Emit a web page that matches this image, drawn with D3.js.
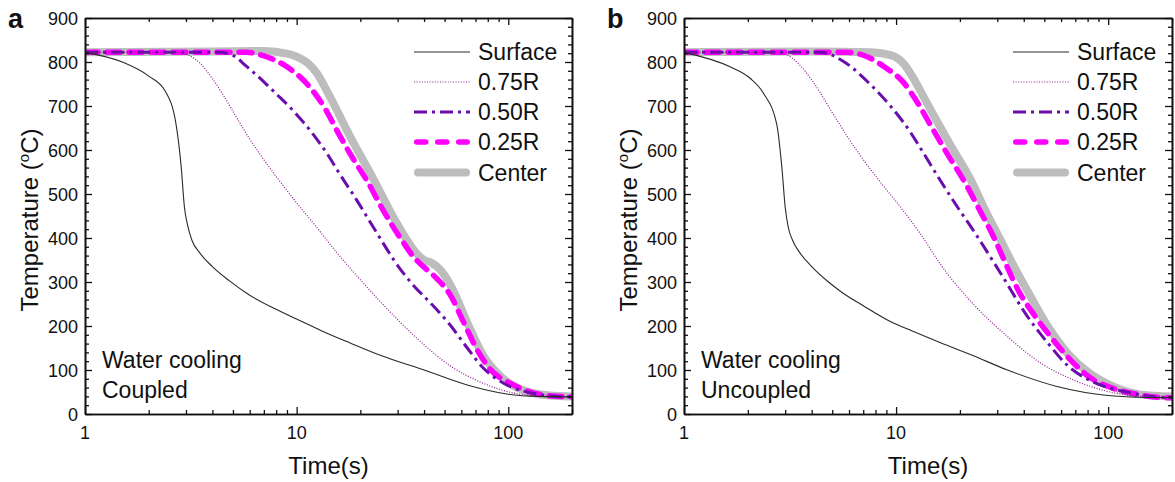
<!DOCTYPE html>
<html>
<head>
<meta charset="utf-8">
<script src="https://cdn.jsdelivr.net/npm/d3@7"></script>
<style>
  html, body { margin: 0; padding: 0; background: #fff; }
  svg { display: block; font-family: Arial, "Liberation Sans", sans-serif; }
</style>
</head>
<body>
<svg id="chart" width="1175" height="482"></svg>
<script>
// Series names and legend order
const seriesNames = ["Surface", "0.75R", "0.50R", "0.25R", "Center"];

// Axis ticks
const xMajorTicks = [1, 10, 100];
const xMinorTicks = [2, 3, 4, 5, 6, 7, 8, 9, 20, 30, 40, 50, 60, 70, 80, 90, 200];
const yMajorTicks = [0, 100, 200, 300, 400, 500, 600, 700, 800, 900];

// Panel a: water cooling, coupled  (time in s, temperature in °C)
const surfaceA_t = [1, 1.5, 2, 2.4, 2.7, 2.85, 2.95, 3.05, 3.2, 3.5, 4.0, 4.8, 6, 8, 10, 13, 18, 25, 40, 64, 100, 140, 200];
const surfaceA_T = [822, 800, 768, 733, 655, 560, 470, 430, 395, 365, 335, 303, 270, 238, 216, 190, 161, 133, 100, 66, 45, 40, 39];
const r75A_t = [1, 2.7, 3.1, 3.5, 4, 4.5, 5, 6, 7, 8, 10, 12.4, 15, 18, 25.7, 37, 53, 76, 110, 150, 200];
const r75A_T = [822, 822, 815, 797, 762, 725, 688, 625, 578, 540, 480, 425, 375, 330, 248, 172, 110, 70, 46, 40, 39];
const r50A_t = [1, 4.3, 5, 5.8, 7, 8, 9.6, 12, 14, 16, 19, 23, 30.8, 36, 41, 47, 53, 64, 76, 95, 131, 170, 200];
const r50A_T = [822, 822, 815, 790, 755, 728, 690, 635, 590, 545, 490, 425, 330, 290, 262, 232, 203, 150, 105, 70, 47, 40, 39];
const r25A_t = [1, 5.8, 7.2, 9, 11.2, 13.4, 16, 18.5, 21.4, 25.7, 31.9, 36, 39.7, 45.9, 53, 61.3, 70.9, 82, 102, 131, 160, 200];
const r25A_T = [822, 822, 812, 789, 750, 700, 632, 580, 532, 462, 390, 355, 335, 308, 272, 210, 148, 102, 70, 48, 41, 39];
const centerA_t = [1, 4, 7, 9, 10, 11.6, 12.4, 14.4, 18, 23, 29.6, 36.9, 40, 42.7, 46, 50, 55, 63.7, 76.3, 91.7, 110, 157, 200];
const centerA_T = [822, 824, 825, 819, 812, 792, 776, 720, 628, 535, 435, 365, 350, 345, 335, 315, 280, 210, 132, 86, 60, 42, 40];

// Panel b: water cooling, uncoupled
const surfaceB_t = [1, 1.65, 2.05, 2.37, 2.74, 2.9, 3.0, 3.1, 3.25, 3.5, 4.0, 4.8, 5.5, 7, 9.4, 12, 16.2, 23, 33.5, 58, 100, 140, 200];
const surfaceB_T = [822, 789, 763, 729, 657, 555, 470, 425, 395, 368, 335, 300, 278, 246, 210, 188, 162, 133, 100, 62, 42, 38, 37];
const r75B_t = [1, 2.74, 3.1, 3.4, 4.1, 4.9, 5.9, 7.6, 8.4, 10.9, 13, 16.2, 23.3, 33.5, 48, 69, 100, 143, 200];
const r75B_T = [822, 822, 815, 800, 752, 692, 630, 555, 528, 460, 410, 340, 248, 176, 116, 77, 51, 40, 37];
const r50B_t = [1, 4.4, 5.7, 7.6, 9.4, 11.7, 13, 16.2, 19.5, 23.3, 31.1, 41.6, 51.8, 64.4, 83, 119, 160, 200];
const r50B_T = [822, 822, 800, 748, 700, 640, 605, 530, 470, 415, 320, 222, 162, 110, 75, 51, 40, 37];
const r25B_t = [1, 5.9, 7.3, 8.75, 10.9, 12.6, 15, 17.5, 20.9, 25, 29, 33, 37.3, 44.8, 53.7, 66.7, 80, 111, 140, 171, 200];
const r25B_T = [822, 822, 812, 790, 752, 708, 645, 590, 530, 460, 400, 340, 285, 225, 175, 122, 87, 55, 44, 38, 37];
const centerB_t = [1, 4, 7.6, 9.5, 10.9, 12, 13, 15, 18, 22.5, 26.5, 31.1, 36, 41.6, 51.8, 64.4, 80, 106, 143, 200];
const centerB_T = [822, 824, 822, 815, 795, 765, 735, 680, 612, 532, 460, 395, 335, 280, 200, 138, 96, 62, 44, 40];

// Line styles per series
const styles = {
  "Surface": { color: "#2a2a2a", width: 1.1, dash: null, cap: "butt" },
  "0.75R":   { color: "#8e1a8e", width: 1.2, dash: "1,1.6", cap: "butt" },
  "0.50R":   { color: "#6a0dad", width: 3, dash: "13,5,3,5", cap: "butt" },
  "0.25R":   { color: "#ff00ff", width: 5.5, dash: "13,9", cap: "round" },
  "Center":  { color: "#bdbdbd", width: 8, dash: null, cap: "round" }
};

const zip = (ts, Ts) => ts.map((t, i) => ({ t: t, T: Ts[i] }));

const panels = [
  {
    letter: "a", left: 85, right: 572, note: ["Water cooling", "Coupled"],
    series: {
      "Surface": zip(surfaceA_t, surfaceA_T),
      "0.75R": zip(r75A_t, r75A_T),
      "0.50R": zip(r50A_t, r50A_T),
      "0.25R": zip(r25A_t, r25A_T),
      "Center": zip(centerA_t, centerA_T)
    }
  },
  {
    letter: "b", left: 684, right: 1172, note: ["Water cooling", "Uncoupled"],
    series: {
      "Surface": zip(surfaceB_t, surfaceB_T),
      "0.75R": zip(r75B_t, r75B_T),
      "0.50R": zip(r50B_t, r50B_T),
      "0.25R": zip(r25B_t, r25B_T),
      "Center": zip(centerB_t, centerB_T)
    }
  }
];

const plotTop = 18, plotBottom = 414;
const svg = d3.select("#chart");

panels.forEach(p => {
  const x = d3.scaleLog().domain([1, 200]).range([p.left, p.right]);
  const y = d3.scaleLinear().domain([0, 900]).range([plotBottom, plotTop]);
  const g = svg.append("g");

  const clipId = "clip-" + p.letter;
  svg.append("clipPath").attr("id", clipId)
    .append("rect").attr("x", p.left).attr("y", plotTop)
    .attr("width", p.right - p.left).attr("height", plotBottom - plotTop);

  // curves, drawn from core outward so the surface sits on top
  const line = d3.line().x(d => x(d.t)).y(d => y(d.T)).curve(d3.curveMonotoneX);
  const plot = g.append("g").attr("clip-path", `url(#${clipId})`);
  ["Center", "0.25R", "0.50R", "0.75R", "Surface"].forEach(name => {
    const s = styles[name];
    plot.append("path")
      .datum(p.series[name])
      .attr("d", line)
      .attr("fill", "none")
      .attr("stroke", s.color)
      .attr("stroke-width", s.width)
      .attr("stroke-linecap", s.cap)
      .attr("stroke-linejoin", "round")
      .attr("stroke-dasharray", s.dash);
  });

  // axes with inward ticks on all four sides
  const axStyle = sel => {
    sel.select(".domain").attr("stroke", "#111").attr("stroke-width", 1.6);
    sel.selectAll(".tick line").attr("stroke", "#111").attr("stroke-width", 1.3);
    sel.selectAll(".tick text").remove();
  };
  const yMinor = d3.range(0, 901, 20).filter(v => v % 100 !== 0);

  g.append("g").attr("transform", `translate(0,${plotBottom})`)
    .call(d3.axisBottom(x).tickValues(xMajorTicks).tickSizeInner(-7).tickSizeOuter(0)).call(axStyle);
  g.append("g").attr("transform", `translate(0,${plotBottom})`)
    .call(d3.axisBottom(x).tickValues(xMinorTicks).tickSizeInner(-4).tickSizeOuter(0)).call(axStyle);
  g.append("g").attr("transform", `translate(0,${plotTop})`)
    .call(d3.axisTop(x).tickValues(xMajorTicks).tickSizeInner(-7).tickSizeOuter(0)).call(axStyle);
  g.append("g").attr("transform", `translate(0,${plotTop})`)
    .call(d3.axisTop(x).tickValues(xMinorTicks).tickSizeInner(-4).tickSizeOuter(0)).call(axStyle);
  g.append("g").attr("transform", `translate(${p.left},0)`)
    .call(d3.axisLeft(y).tickValues(yMajorTicks).tickSizeInner(-7).tickSizeOuter(0)).call(axStyle);
  g.append("g").attr("transform", `translate(${p.left},0)`)
    .call(d3.axisLeft(y).tickValues(yMinor).tickSizeInner(-4).tickSizeOuter(0)).call(axStyle);
  g.append("g").attr("transform", `translate(${p.right},0)`)
    .call(d3.axisRight(y).tickValues(yMajorTicks).tickSizeInner(-7).tickSizeOuter(0)).call(axStyle);
  g.append("g").attr("transform", `translate(${p.right},0)`)
    .call(d3.axisRight(y).tickValues(yMinor).tickSizeInner(-4).tickSizeOuter(0)).call(axStyle);

  // tick labels
  g.selectAll(".xl").data(xMajorTicks).enter().append("text")
    .attr("x", d => x(d)).attr("y", 439)
    .attr("text-anchor", "middle").attr("font-size", 18).attr("fill", "#111")
    .text(d => d);
  g.selectAll(".yl").data(yMajorTicks).enter().append("text")
    .attr("x", p.left - 7).attr("y", d => y(d) + 6.5)
    .attr("text-anchor", "end").attr("font-size", 18).attr("fill", "#111")
    .text(d => d);

  // axis titles
  g.append("text")
    .attr("x", (p.left + p.right) / 2).attr("y", 474)
    .attr("text-anchor", "middle").attr("font-size", 24).attr("fill", "#111")
    .text("Time(s)");
  const yt = g.append("text")
    .attr("transform", `translate(${p.left - 47},${(plotTop + plotBottom) / 2 + 4}) rotate(-90)`)
    .attr("text-anchor", "middle").attr("font-size", 24).attr("fill", "#111");
  yt.append("tspan").text("Temperature (");
  yt.append("tspan").attr("font-size", 15).attr("dy", -9).text("o");
  yt.append("tspan").attr("dy", 9).text("C)");

  // panel letter
  g.append("text")
    .attr("x", p.left - 77).attr("y", 28)
    .attr("font-size", 27).attr("font-weight", "bold").attr("fill", "#111")
    .text(p.letter);

  // annotation
  p.note.forEach((txt, i) => {
    g.append("text")
      .attr("x", p.left + 17).attr("y", 368 + i * 30)
      .attr("font-size", 23).attr("fill", "#111")
      .text(txt);
  });

  // legend
  const legY = [52, 82, 112, 142, 172.5];
  seriesNames.forEach((name, i) => {
    const s = styles[name];
    const x1 = p.left + 329, x2 = p.left + 385;
    g.append("line")
      .attr("x1", x1 + (s.cap === "round" ? s.width / 2 : 0))
      .attr("x2", x2 - (s.cap === "round" ? s.width / 2 : 0))
      .attr("y1", legY[i]).attr("y2", legY[i])
      .attr("stroke", s.color).attr("stroke-width", s.width)
      .attr("stroke-linecap", s.cap)
      .attr("stroke-dasharray", name === "0.25R" ? "9,12" : s.dash);
    g.append("text")
      .attr("x", p.left + 393).attr("y", legY[i] + 8)
      .attr("font-size", 23).attr("fill", "#111")
      .text(name);
  });
});
</script>
</body>
</html>
